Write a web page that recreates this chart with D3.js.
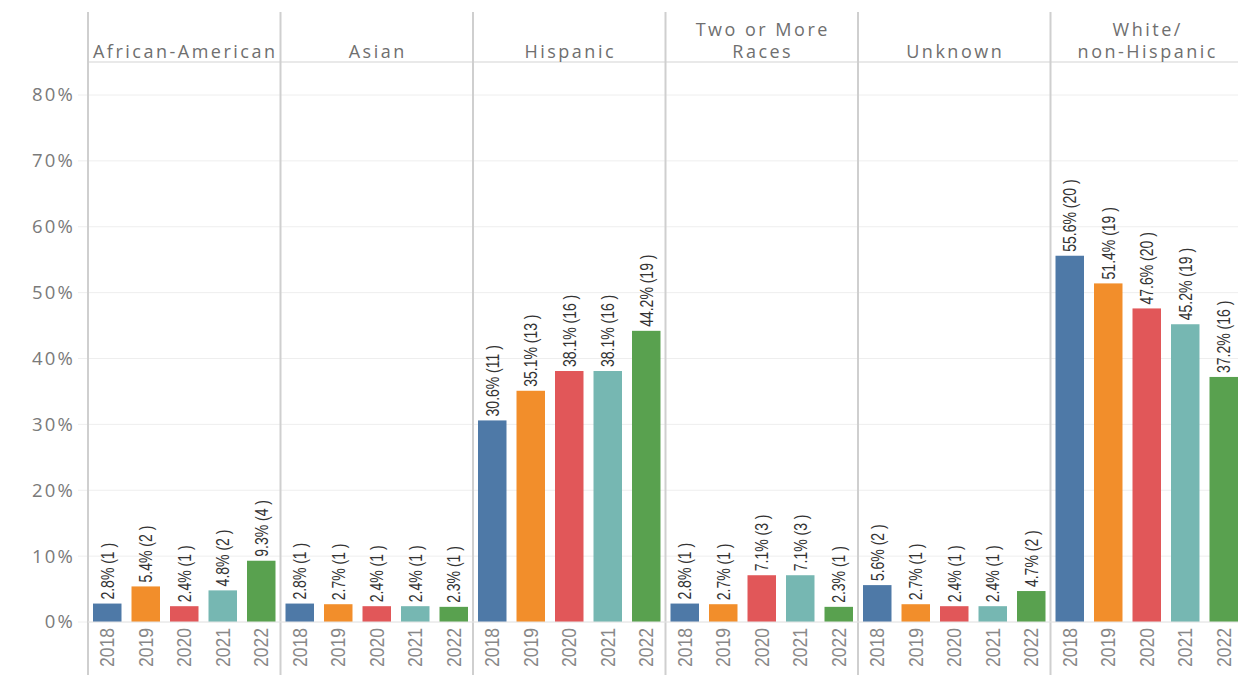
<!DOCTYPE html>
<html>
<head>
<meta charset="utf-8">
<script src="https://cdn.jsdelivr.net/npm/d3@7"></script>
<style>
  body { margin: 0; background: #fff; }
  svg text { font-family: "Liberation Sans", Arial, sans-serif; }
</style>
</head>
<body>
<div id="canvas"></div>
<script>
const groups = ["African-American", "Asian", "Hispanic", "Two or More Races", "Unknown", "White/non-Hispanic"];
const groupLines = [["African-American"], ["Asian"], ["Hispanic"], ["Two or More", "Races"], ["Unknown"], ["White/", "non-Hispanic"]];
const years = ["2018", "2019", "2020", "2021", "2022"];
const pct = [
  [2.8, 5.4, 2.4, 4.8, 9.3],
  [2.8, 2.7, 2.4, 2.4, 2.3],
  [30.6, 35.1, 38.1, 38.1, 44.2],
  [2.8, 2.7, 7.1, 7.1, 2.3],
  [5.6, 2.7, 2.4, 2.4, 4.7],
  [55.6, 51.4, 47.6, 45.2, 37.2]
];
const counts = [
  [1, 2, 1, 2, 4],
  [1, 1, 1, 1, 1],
  [11, 13, 16, 16, 19],
  [1, 1, 3, 3, 1],
  [2, 1, 1, 1, 2],
  [20, 19, 20, 19, 16]
];
const yTicks = [0, 10, 20, 30, 40, 50, 60, 70, 80];
const colors = ["#4e79a7", "#f28e2b", "#e15759", "#76b7b2", "#59a14f"];

const width = 1238, height = 675;
const marginLeft = 88, marginTop = 12, headerBottom = 62, zeroY = 622;
const panelW = 192.5;

const svg = d3.select("#canvas").append("svg")
  .attr("width", width).attr("height", height);

const y = d3.scaleLinear().domain([0, 80]).range([zeroY, 95]);
const xPanel = d3.scaleBand().domain(groups).range([marginLeft, marginLeft + panelW * groups.length]);
const xYear = d3.scaleBand().domain(years).range([0, panelW]).paddingInner(0.26).paddingOuter(0.13);

// gridlines
svg.append("g").selectAll("line").data(yTicks).join("line")
  .attr("x1", marginLeft - 10).attr("x2", width)
  .attr("y1", d => y(d)).attr("y2", d => y(d))
  .attr("stroke", "#eeeeee").attr("stroke-width", 1);

// header bottom line
svg.append("line").attr("x1", marginLeft).attr("x2", width)
  .attr("y1", headerBottom).attr("y2", headerBottom)
  .attr("stroke", "#e2e2e2").attr("stroke-width", 1.5);

// y tick labels
svg.append("g").selectAll("text").data(yTicks).join("text")
  .attr("x", 75).attr("y", d => y(d)).attr("dy", "0.35em")
  .attr("text-anchor", "end")
  .style("font-family", "'Open Sans', sans-serif")
  .style("font-size", "18.5px").style("letter-spacing", "2.2px")
  .attr("fill", "#7a7a7a")
  .text(d => d + "%");

// panels
const panel = svg.append("g").selectAll("g").data(groups).join("g")
  .attr("transform", d => `translate(${xPanel(d)},0)`);

panel.each(function(g, gi) {
  const p = d3.select(this);
  // header text
  const lines = groupLines[gi];
  const hdr = p.append("text")
    .attr("x", panelW / 2)
    .attr("text-anchor", "middle")
    .style("font-family", "'Open Sans', sans-serif")
    .style("font-size", "18px").style("letter-spacing", "2.5px")
    .attr("fill", "#6f6f6f");
  lines.forEach((l, i) => {
    hdr.append("tspan").attr("x", panelW / 2 + 1)
      .attr("y", 58 - (lines.length - 1 - i) * 22)
      .text(l);
  });

  // bars
  p.selectAll("rect").data(years).join("rect")
    .attr("x", d => xYear(d))
    .attr("width", xYear.bandwidth())
    .attr("y", (d, i) => y(pct[gi][i]))
    .attr("height", (d, i) => zeroY - y(pct[gi][i]))
    .attr("fill", (d, i) => colors[i]);

  // value labels (condensed)
  p.selectAll("text.val").data(years).join("text")
    .attr("class", "val")
    .attr("transform", (d, i) => `translate(${xYear(d) + xYear.bandwidth() / 2},${y(pct[gi][i]) - 4}) rotate(-90) scale(0.8,1)`)
    .attr("dy", "0.36em")
    .attr("text-anchor", "start")
    .style("font-size", "17.5px")
    .attr("fill", "#333")
    .text((d, i) => `${pct[gi][i]}% (${counts[gi][i]} )`);

  // year labels
  p.selectAll("text.yr").data(years).join("text")
    .attr("class", "yr")
    .attr("transform", d => `translate(${xYear(d) + xYear.bandwidth() / 2},${zeroY + 6}) rotate(-90) scale(0.9,1)`)
    .attr("dy", "0.36em")
    .attr("text-anchor", "end")
    .style("font-size", "19.5px")
    .attr("fill", "#888")
    .text(d => d);
});

// separators
const seps = groups.map(g => xPanel(g));
svg.append("g").selectAll("line").data(seps).join("line")
  .attr("x1", d => d).attr("x2", d => d)
  .attr("y1", marginTop).attr("y2", height)
  .attr("stroke", "#cfcfcf")
  .attr("stroke-width", 2);

// zero baseline
svg.append("line").attr("x1", marginLeft).attr("x2", width)
  .attr("y1", zeroY).attr("y2", zeroY)
  .attr("stroke", "#e6e6e6").attr("stroke-width", 1);
</script>
</body>
</html>
